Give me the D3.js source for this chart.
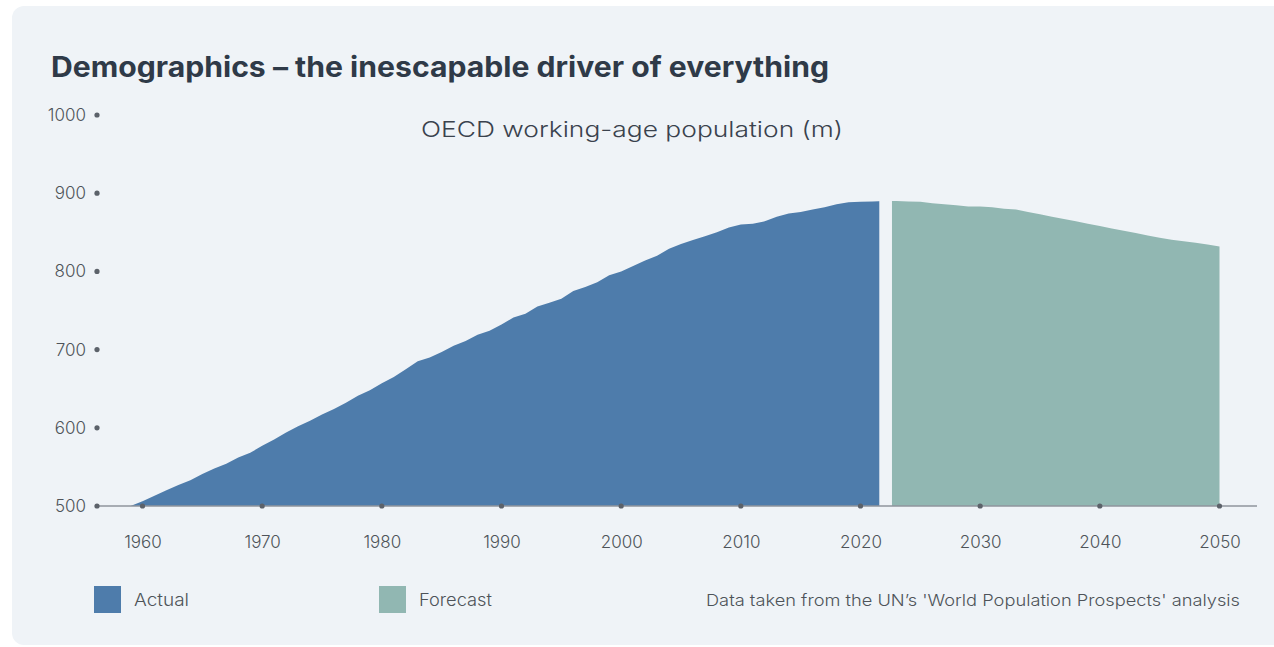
<!DOCTYPE html>
<html>
<head>
<meta charset="utf-8">
<script src="https://cdn.jsdelivr.net/npm/d3@7"></script>
<style>
  html, body { margin: 0; padding: 0; background: #ffffff; }
  svg { display: block; }
  text { font-family: Inter, "Open Sans", sans-serif; }
</style>
</head>
<body>
<svg id="chart" width="1274" height="647"></svg>
<script>
// ---- data ----
const actualYears = [1959,1960,1961,1962,1963,1964,1965,1966,1967,1968,1969,1970,1971,1972,1973,1974,1975,1976,1977,1978,1979,1980,1981,1982,1983,1984,1985,1986,1987,1988,1989,1990,1991,1992,1993,1994,1995,1996,1997,1998,1999,2000,2001,2002,2003,2004,2005,2006,2007,2008,2009,2010,2011,2012,2013,2014,2015,2016,2017,2018,2019,2020,2021,2022];
const actualValues = [500,506,513,520,527,533,541,548,554,562,568,577,585,594,602,609,617,624,632,641,648,657,665,675,685,690,697,705,711,719,724,732,741,746,755,760,765,775,780,786,795,800,807,814,820,829,835,840,845,850,856,860,861,864,870,874,876,879,882,886,888.5,889,889.5,890];
const forecastYears = [2022,2023,2024,2025,2026,2027,2028,2029,2030,2031,2032,2033,2034,2035,2036,2037,2038,2039,2040,2041,2042,2043,2044,2045,2046,2047,2048,2049,2050];
const forecastValues = [890,890,889.5,889,887,886,884.5,883,883,882,880,879,876,873,870,867,864,861,858,855,852,849,846,843,840.5,838.5,836.5,834.5,832];
const xTicks = [1960,1970,1980,1990,2000,2010,2020,2030,2040,2050];
const yTicks = [500,600,700,800,900,1000];
const gapYears = [2021.57, 2022.63];
const seriesNames = ["Actual", "Forecast"];
const seriesColors = ["#4e7cab", "#91b7b2"];
const title = "Demographics \u2013 the inescapable driver of everything";
const subtitle = "OECD working-age population (m)";
const source = "Data taken from the UN\u2019s 'World Population Prospects' analysis";

// ---- layout ----
const svg = d3.select("#chart");
const bg = "#eff3f7";
svg.append("rect").attr("x", 12).attr("y", 6).attr("width", 1290).attr("height", 639)
  .attr("rx", 12).attr("fill", bg);

const x = d3.scaleLinear().domain([1960, 2050]).range([142.5, 1219.5]);
const y = d3.scaleLinear().domain([500, 1000]).range([506, 115]);
const axisLeftX = 97, axisRightX = 1257;
const textColor = "#4e5359";

// title
svg.append("text").attr("x", 51).attr("y", 77).text(title)
  .attr("font-size", 28).attr("font-weight", 700).attr("fill", "#2f3a48")
  .attr("textLength", 778).attr("lengthAdjust", "spacingAndGlyphs");
svg.append("text").attr("x", 632).attr("y", 137).attr("text-anchor", "middle").text(subtitle)
  .attr("font-size", 22).attr("font-weight", 300).attr("fill", "#3a424d")
  .attr("textLength", 422).attr("lengthAdjust", "spacingAndGlyphs");

// areas
const area = d3.area().x(d => x(d[0])).y0(y(500)).y1(d => y(d[1])).curve(d3.curveLinear);
const actual = actualYears.map((t, i) => [t, actualValues[i]]);
const forecast = forecastYears.map((t, i) => [t, forecastValues[i]]);
svg.append("path").datum(actual).attr("d", area).attr("fill", seriesColors[0]);
svg.append("path").datum(forecast).attr("d", area).attr("fill", seriesColors[1]);
// separator gap between actual and forecast
svg.append("rect").attr("x", x(gapYears[0])).attr("y", y(1000))
  .attr("width", x(gapYears[1]) - x(gapYears[0])).attr("height", y(500) - y(1000))
  .attr("fill", bg);

// x axis
const gx = svg.append("g").attr("transform", `translate(0,${y(500)})`)
  .call(d3.axisBottom(x).tickValues(xTicks).tickFormat(d3.format("d")).tickSize(0).tickPadding(30));
gx.select(".domain").remove();
gx.selectAll("text").attr("font-size", 17).attr("font-weight", 300).attr("fill", textColor)
  .attr("font-family", "Inter, sans-serif");
svg.append("line").attr("x1", axisLeftX).attr("x2", axisRightX).attr("y1", y(500)).attr("y2", y(500))
  .attr("stroke", "#8f959c").attr("stroke-width", 1.6);
svg.append("g").selectAll("circle").data(xTicks).join("circle")
  .attr("cx", d => x(d)).attr("cy", y(500)).attr("r", 2.6).attr("fill", "#5c626a");

// y axis
const gy = svg.append("g").attr("transform", `translate(${axisLeftX},0)`)
  .call(d3.axisLeft(y).tickValues(yTicks).tickFormat(d3.format("d")).tickSize(0).tickPadding(11));
gy.select(".domain").remove();
gy.selectAll("text").attr("font-size", 17).attr("font-weight", 300).attr("fill", textColor)
  .attr("font-family", "Inter, sans-serif");
svg.append("g").selectAll("circle").data(yTicks).join("circle")
  .attr("cx", axisLeftX).attr("cy", d => y(d)).attr("r", 2.6).attr("fill", "#5c626a");

// legend
const legendX = [94, 379];
const legendW = [55, 73];
seriesNames.forEach((n, i) => {
  svg.append("rect").attr("x", legendX[i]).attr("y", 586).attr("width", 27).attr("height", 27)
    .attr("fill", seriesColors[i]);
  svg.append("text").attr("x", legendX[i] + 40).attr("y", 605.5).text(n)
    .attr("font-size", 17).attr("font-weight", 300).attr("fill", textColor)
    .attr("textLength", legendW[i]).attr("lengthAdjust", "spacingAndGlyphs");
});
svg.append("text").attr("x", 706).attr("y", 605.5).text(source)
  .attr("font-size", 16.5).attr("font-weight", 300).attr("fill", textColor)
  .attr("textLength", 534).attr("lengthAdjust", "spacingAndGlyphs");
</script>
</body>
</html>
